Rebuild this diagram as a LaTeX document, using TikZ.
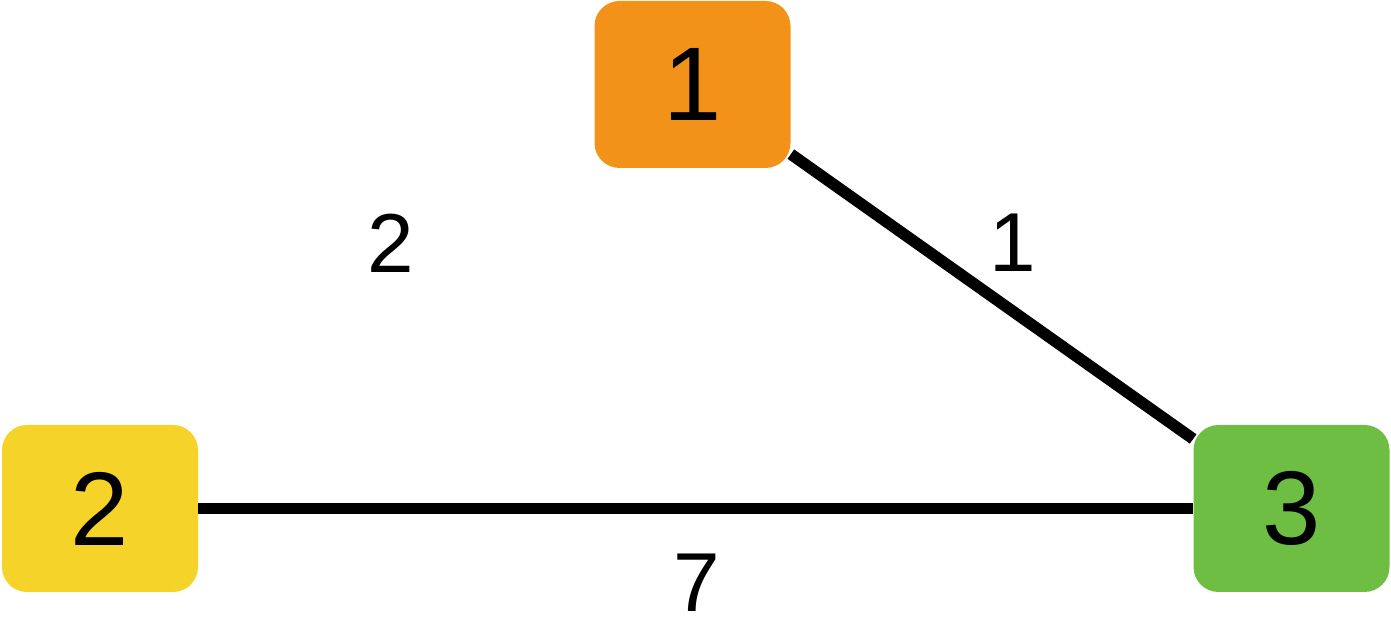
\documentclass[tikz,border=0pt]{standalone}
\usepackage{fontspec}
\setmainfont{Liberation Sans}
\definecolor{nodeorange}{HTML}{F39219}
\definecolor{nodeyellow}{HTML}{F5D328}
\definecolor{nodegreen}{HTML}{6FBE44}
\begin{document}
\begin{tikzpicture}[
    vertex/.style={rectangle, rounded corners=0.5cm, minimum width=3.92cm, minimum height=3.34cm, inner sep=0pt, text=black, font=\fontsize{59.6}{60}\selectfont},
    weight/.style={text=black, inner sep=0pt, font=\fontsize{47.6}{48}\selectfont},
    link/.style={draw=black, line width=0.23cm}
]
    \useasboundingbox (0, 0) rectangle (27.82, 12.42);

    \node (n1)[vertex, fill=nodeorange] at (13.85, 10.73) {1};
    \node (n2)[vertex, fill=nodeyellow] at (2.00, 2.25) {2};
    \node (n3)[vertex, fill=nodegreen] at (25.83, 2.25) {3};

    \node (w12)[weight] at (7.82, 7.56) {2};
    \node (w13)[weight] at (20.26, 7.56) {1};
    \node (w23)[weight] at (13.94, 0.76) {7};

    \draw [link] (n1) -- (n3);
    \draw [link] (n2) -- (n3);
\end{tikzpicture}
\end{document}
